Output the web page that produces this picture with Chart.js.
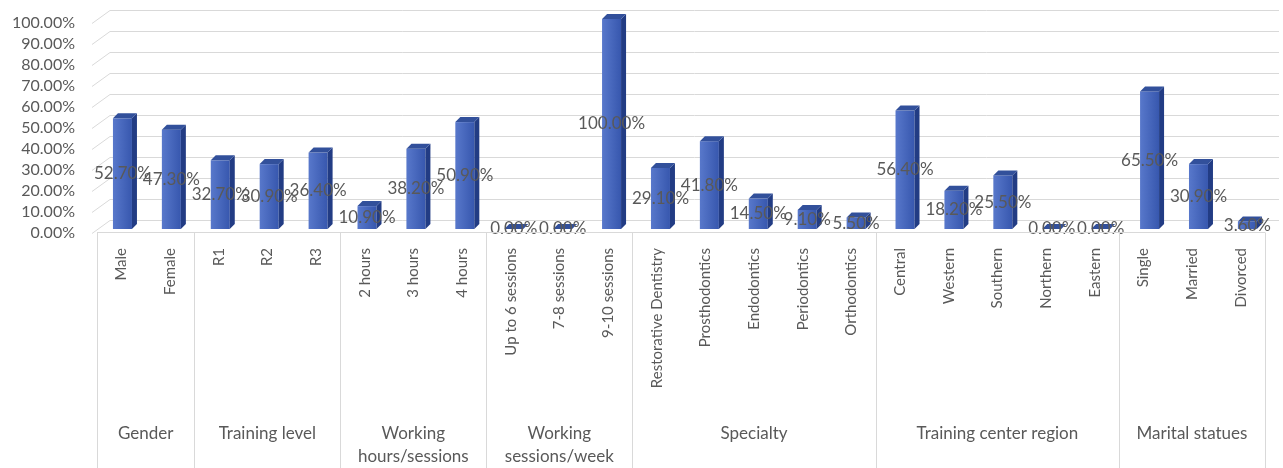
<!DOCTYPE html>
<html>
<head>
<script src="https://cdn.jsdelivr.net/npm/chart.js@4.4.1/dist/chart.umd.min.js"></script>
<style>
body { margin: 0; background: #fff; }
</style>
</head>
<body>
<canvas id="chart" width="1283" height="468"></canvas>
<script>
// categories in order, grouped below
var categories = ['Male', 'Female', 'R1', 'R2', 'R3', '2 hours', '3 hours', '4 hours',
	'Up to 6 sessions', '7-8 sessions', '9-10 sessions',
	'Restorative Dentistry', 'Prosthodontics', 'Endodontics', 'Periodontics', 'Orthodontics',
	'Central', 'Western', 'Southern', 'Northern', 'Eastern',
	'Single', 'Married', 'Divorced'];
var values = [52.7, 47.3, 32.7, 30.9, 36.4, 10.9, 38.2, 50.9,
	0, 0, 100,
	29.1, 41.8, 14.5, 9.1, 5.5,
	56.4, 18.2, 25.5, 0, 0,
	65.5, 30.9, 3.6];
var groupNames = [['Gender'], ['Training level'], ['Working', 'hours/sessions'], ['Working', 'sessions/week'],
	['Specialty'], ['Training center region'], ['Marital statues']];
var groupSizes = [2, 3, 3, 3, 5, 5, 3];
var yMax = 100;
var yStep = 10;

var textColor = '#595959';
var lineColor = '#d9d9d9';
var fontName = 'Lato';

function pct(v) { return v.toFixed(2) + '%'; }

var bars3d = {
	id: 'bars3d',
	beforeDatasetsDraw: function(chart) {
		var ctx = chart.ctx, a = chart.chartArea, ys = chart.scales.y;
		ctx.save();
		ctx.strokeStyle = lineColor;
		ctx.lineWidth = 1;
		for (var v = 0; v <= yMax; v += yStep) {
			var y = Math.round(ys.getPixelForValue(v)) + 0.5;
			ctx.beginPath();
			ctx.moveTo(a.left - 5, y + 4);
			ctx.lineTo(a.left + 13, y - 9);
			ctx.lineTo(a.right + 14, y - 9);
			ctx.stroke();
		}
		ctx.restore();
	},
	afterDatasetsDraw: function(chart) {
		var ctx = chart.ctx, a = chart.chartArea;
		var meta = chart.getDatasetMeta(0);
		var dx = 5, dy = 5;
		ctx.save();
		meta.data.forEach(function(el, i) {
			var x = el.x + 1 + (el.x - a.left) * 0.005;
			var hw = el.width / 2;
			var top = el.y, base = el.base;
			// front
			var g = ctx.createLinearGradient(x - hw, 0, x + hw, 0);
			g.addColorStop(0, '#5878cb');
			g.addColorStop(1, '#3757ae');
			ctx.fillStyle = g;
			ctx.fillRect(x - hw, top, hw * 2, base - top);
			// side
			ctx.fillStyle = '#223c84';
			ctx.beginPath();
			ctx.moveTo(x + hw, top);
			ctx.lineTo(x + hw + dx, top - dy);
			ctx.lineTo(x + hw + dx, base - dy);
			ctx.lineTo(x + hw, base);
			ctx.closePath();
			ctx.fill();
			// top
			ctx.fillStyle = '#32509b';
			ctx.beginPath();
			ctx.moveTo(x - hw, top);
			ctx.lineTo(x + hw, top);
			ctx.lineTo(x + hw + dx, top - dy);
			ctx.lineTo(x - hw + dx, top - dy);
			ctx.closePath();
			ctx.fill();
		});
		// value labels
		ctx.fillStyle = textColor;
		ctx.font = '17px ' + fontName;
		ctx.textAlign = 'center';
		ctx.textBaseline = 'middle';
		meta.data.forEach(function(el, i) {
			var x = el.x + 1 + (el.x - a.left) * 0.005;
			ctx.fillText(pct(values[i]), x, (el.y + el.base) / 2);
		});
		ctx.restore();
	},
	afterDraw: function(chart) {
		var ctx = chart.ctx, a = chart.chartArea;
		var w = (a.right - a.left) / categories.length;
		var top = a.bottom + 3.5;
		ctx.save();
		ctx.strokeStyle = lineColor;
		ctx.lineWidth = 1;
		ctx.beginPath();
		ctx.moveTo(a.left, top);
		ctx.lineTo(a.right, top);
		var idx = 0;
		var edges = [a.left];
		groupSizes.forEach(function(n) { idx += n; edges.push(a.left + idx * w); });
		edges.forEach(function(ex) {
			var px = Math.round(ex) + 0.5;
			ctx.moveTo(px, top);
			ctx.lineTo(px, chart.height);
		});
		ctx.stroke();
		ctx.fillStyle = textColor;
		ctx.font = '17px ' + fontName;
		ctx.textAlign = 'center';
		ctx.textBaseline = 'middle';
		groupNames.forEach(function(lines, g) {
			var cx = (edges[g] + edges[g + 1]) / 2;
			lines.forEach(function(t, k) {
				ctx.fillText(t, cx, 434 + k * 23);
			});
		});
		ctx.restore();
	}
};

var chart = new Chart(document.getElementById('chart'), {
	type: 'bar',
	data: {
		labels: categories,
		datasets: [{
			data: values,
			backgroundColor: 'rgba(0,0,0,0)',
			barThickness: 19
		}]
	},
	options: {
		responsive: false,
		animation: false,
		layout: { padding: { top: 19, right: 18, left: 0, bottom: 0 } },
		plugins: { legend: { display: false }, tooltip: { enabled: false } },
		scales: {
			x: {
				grid: { display: false },
				border: { display: false },
				ticks: {
					autoSkip: false,
					maxRotation: 90,
					minRotation: 90,
					padding: 11,
					color: textColor,
					font: { family: fontName, size: 15 }
				},
				afterFit: function(s) { s.height = 239; }
			},
			y: {
				min: 0,
				max: yMax,
				grid: { display: false, drawTicks: false },
				border: { display: false },
				ticks: {
					autoSkip: false,
					stepSize: yStep,
					padding: 22,
					labelOffset: 4,
					color: textColor,
					font: { family: fontName, size: 16 },
					callback: function(v) { return pct(v); }
				},
				afterFit: function(s) {
					s.width = 97;
					s.paddingTop = 0;
					s.paddingBottom = 0;
				}
			}
		}
	},
	plugins: [bars3d]
});
</script>
</body>
</html>
